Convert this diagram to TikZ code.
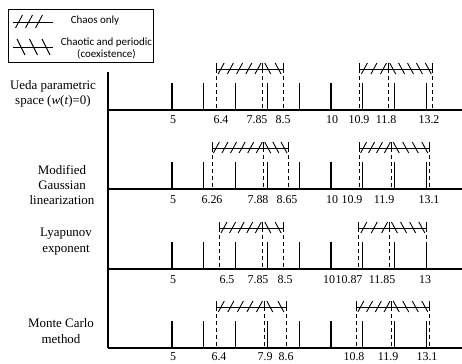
\documentclass[tikz,border=0pt]{standalone}
\usepackage{fontspec}
\setmainfont{Liberation Serif}
\newfontfamily\legendfont{Carlito}
\newcommand\hatchbracket[4]{% #1 axis y, #2 start, #3 split, #4 end
  \pgfmathsetmacro\hXa{172+31.8*(#2-5)}%
  \pgfmathsetmacro\hXm{172+31.8*(#3-5)}%
  \pgfmathsetmacro\hXc{172+31.8*(#4-5)}%
  \pgfmathsetmacro\hYl{#1-41}%
  \pgfmathsetmacro\hYt{#1-47}%
  \draw[brk] (\hXa,\hYt) -- (\hXa,\hYl) -- (\hXc,\hYl) -- (\hXc,\hYt);
  \draw[brk] (\hXm,\hYt) -- (\hXm,\hYl);
  \draw[dashline] (\hXa,\hYl) -- (\hXa,#1);
  \draw[dashline] (\hXm,\hYl) -- (\hXm,#1);
  \draw[dashline] (\hXc,\hYl) -- (\hXc,#1);
  \pgfmathtruncatemacro\hNf{max(1,round((\hXm-\hXa)/9))}%
  \pgfmathtruncatemacro\hNb{max(1,round((\hXc-\hXm)/9))}%
  \foreach \i in {1,...,\hNf}{%
    \pgfmathsetmacro\hXx{\hXa+(\i-0.5)*(\hXm-\hXa)/\hNf}%
    \draw[brk] (\hXx-3,#1-36) -- (\hXx+3,#1-47);
  }
  \foreach \i in {1,...,\hNb}{%
    \pgfmathsetmacro\hXx{\hXm+(\i-0.5)*(\hXc-\hXm)/\hNb}%
    \draw[brk] (\hXx-3,#1-47) -- (\hXx+3,#1-36);
  }
}
\newcommand\axispanel[1]{%
  \draw[axisline] (108,#1) -- (462,#1);
  \foreach \v in {5,...,13}{%
    \pgfmathsetmacro\hXt{172+31.8*(\v-5)}%
    \draw[tickline] (\hXt,#1-27) -- (\hXt,#1);
  }
}
\begin{document}
\begin{tikzpicture}[x=1bp,y=-1bp,
  axisline/.style={line width=1.3bp},
  tickline/.style={line width=1.2bp},
  dashline/.style={line width=0.9bp, dash pattern=on 4bp off 3bp},
  brk/.style={line width=0.9bp},
  numlabel/.style={font=\fontsize{12}{14}\selectfont, inner sep=0pt},
  methodlabel/.style={font=\fontsize{13}{15.5}\selectfont, align=center, inner sep=0pt},
  legendtext/.style={font=\legendfont\fontsize{11}{12}\selectfont, inner sep=0pt, align=center},
  legendbox/.style={draw, line width=0.7bp, minimum width=145bp, minimum height=53bp, inner sep=0pt}]
\useasboundingbox (0,0) rectangle (462,363);

% legend
\node[legendbox] (legend) at (80.5,35.5) {};
\draw[brk] (13,22) -- (53,22);
\foreach \x in {19,29,39} \draw[brk] (\x-3.5,28) -- (\x+3.5,15);
\draw[brk] (13,47) -- (53,47);
\foreach \x in {21,33.5,46} \draw[brk] (\x-4,39) -- (\x+4,55);
\node[legendtext] (chaosonly) at (95,21) {Chaos only};
\node[legendtext] (coexist) at (106.5,48.5) {Chaotic and periodic\\(coexistence)};

% main vertical axis
\draw[axisline] (108,72) -- (108,348);

% panels
\axispanel{110}
\hatchbracket{110}{6.4}{7.85}{8.5}
\hatchbracket{110}{10.9}{11.8}{13.2}
\axispanel{189}
\hatchbracket{189}{6.26}{7.88}{8.65}
\hatchbracket{189}{10.9}{11.9}{13.1}
\axispanel{269}
\hatchbracket{269}{6.5}{7.85}{8.5}
\hatchbracket{269}{10.87}{11.85}{13}
\axispanel{348}
\hatchbracket{348}{6.4}{7.9}{8.6}
\hatchbracket{348}{10.8}{11.9}{13.1}

% number labels
\foreach \xp/\t [count=\k] in {173/5, 221/6.4, 257/7.85, 283/8.5, 332/10, 359/10.9, 386/11.8, 429/13.2}
  \node[numlabel] (pa\k) at (\xp,120) {\t};
\foreach \xp/\t [count=\k] in {173/5, 212/6.26, 258/7.88, 287/8.65, 332/10, 352/10.9, 384/11.9, 429/13.1}
  \node[numlabel] (pb\k) at (\xp,200) {\t};
\foreach \xp/\t [count=\k] in {173/5, 227/6.5, 258/7.85, 285/8.5, 329/10, 349/10.87, 382/11.85, 425/13}
  \node[numlabel] (pc\k) at (\xp,280) {\t};
\foreach \xp/\t [count=\k] in {173/5, 219/6.4, 265/7.9, 286/8.6, 354/10.8, 388/11.9, 427/13.1}
  \node[numlabel] (pd\k) at (\xp,357) {\t};

% method labels
\node[methodlabel] (ueda) at (53,94) {Ueda parametric\\space (\textit{w}(\textit{t})=0)};
\node[methodlabel] (gauss) at (62,185) {Modified\\Gaussian\\linearization};
\node[methodlabel] (lyap) at (66,241.5) {Lyapunov\\exponent};
\node[methodlabel] (monte) at (61,331) {Monte Carlo\\method};
\end{tikzpicture}
\end{document}
